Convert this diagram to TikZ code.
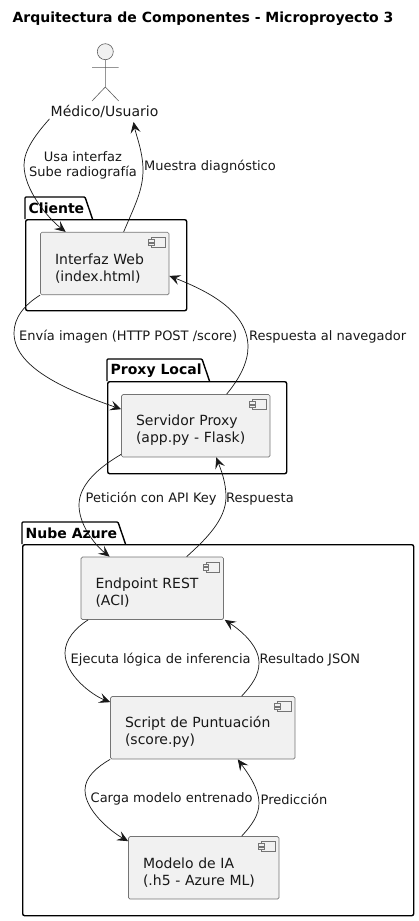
\documentclass[tikz,border=0pt]{standalone}
\usepackage{fontspec}
\setmainfont{DejaVu Sans}
\usetikzlibrary{arrows.meta}
\definecolor{boxfill}{HTML}{F1F1F1}
\definecolor{ink}{HTML}{181818}
\tikzset{
    comp/.style={draw=ink!60,line width=0.7pt,fill=boxfill,rounded corners=1.5pt,align=left,
        inner xsep=14.5pt,inner ysep=0pt,minimum height=62.5pt,text width=#1,text=ink,
        font=\fontsize{14}{17}\selectfont,execute at begin node={\rule{0pt}{20pt}}},
    pkgbody/.style={draw=black,line width=1.4pt,rounded corners=2pt,inner sep=0pt,anchor=north west},
    pkgname/.style={font=\fontsize{14}{17}\selectfont\bfseries,anchor=west,inner sep=0pt,text=black},
    lbl/.style={font=\fontsize{13}{15}\selectfont,anchor=west,inner sep=0pt,text=ink},
    flow/.style={draw=ink,line width=0.7pt,-{Stealth[length=11pt,width=10pt,inset=4.5pt]}},
    compicon/.pic={
        \draw[ink!60,line width=0.6pt,fill=boxfill] (-18,5.5) rectangle (-4.5,15.5);
        \draw[ink!60,line width=0.6pt,fill=boxfill] (-21,7.5) rectangle (-15.5,10);
        \draw[ink!60,line width=0.6pt,fill=boxfill] (-21,11) rectangle (-15.5,13.5);
    }
}
\begin{document}
\begin{tikzpicture}[x=1pt,y=-1pt]
    \useasboundingbox (0,0) rectangle (419,921);
    \node[font=\fontsize{14}{17}\selectfont\bfseries,text=black,inner sep=0pt] (title) at (203,18.5) {Arquitectura de Componentes - Microproyecto 3};

    % paquetes
    \node[pkgbody,minimum width=161pt,minimum height=91pt] (cliente) at (25,219) {};
    \draw[black,line width=1.4pt,rounded corners=1pt] (cliente.north west) -- (25,197) -- (85,197) -- (92.5,219);
    \node[pkgname] (nameCliente) at (28.5,208.5) {Cliente};
    \node[pkgbody,minimum width=179pt,minimum height=92pt] (local) at (107,381) {};
    \draw[black,line width=1.4pt,rounded corners=1pt] (local.north west) -- (107,359) -- (202,359) -- (209.5,381);
    \node[pkgname] (nameLocal) at (110.5,371) {Proxy Local};
    \node[pkgbody,minimum width=391pt,minimum height=371pt] (azure) at (22,544) {};
    \draw[black,line width=1.4pt,rounded corners=1pt] (azure.north west) -- (22,522) -- (118,522) -- (125.5,544);
    \node[pkgname] (nameAzure) at (25.5,533.5) {Nube Azure};

    % actor
    \draw[ink!70,line width=0.6pt,fill=boxfill] (105.3,51.7) circle (8);
    \draw[ink!70,line width=0.6pt] (105.3,59.7) -- (105.3,87) (92,67.3) -- (118.7,67.3)
        (92,101) -- (105.3,87) -- (118.7,101);
    \node[font=\fontsize{14}{17}\selectfont,text=ink,inner sep=1pt] (user) at (104.5,111.5) {Médico/Usuario};

    % componentes
    \node[comp=99.5pt] (web) at (104.75,263.5) {Interfaz Web\\(index.html)};
    \node[comp=119.5pt] (proxy) at (195.75,425.75) {Servidor Proxy\\(app.py - Flask)};
    \node[comp=113.5pt] (rest) at (152.25,588.25) {Endpoint REST\\(ACI)};
    \node[comp=155.5pt] (score) at (202.75,727.75) {Script de Puntuación\\(score.py)};
    \node[comp=121.5pt] (model) at (203.75,867.75) {Modelo de IA\\(.h5 - Azure ML)};
    \foreach \n in {web,proxy,rest,score,model}
        \pic at (\n.north east) {compicon};

    % conexiones
    \draw[flow] (user.south west) .. controls (36,134) and (24,150) .. (24,165)
        .. controls (24,190) and (48,218) .. ([xshift=25.5pt]web.north west);
    \draw[flow] ([xshift=83.5pt]web.north west) .. controls (135,205) and (143,190) .. (143,170)
        .. controls (143,152) and (136,135) .. ([xshift=-26pt,yshift=-3pt]user.south east);
    \draw[flow] (web.south west) .. controls (24,305) and (14,318) .. (14,333)
        .. controls (14,370) and (75,393) .. ([yshift=-15pt]proxy.north west);
    \draw[flow] ([xshift=105.5pt]proxy.north west) .. controls (240,378) and (248,362) .. (248,347)
        .. controls (248,310) and (205,290) .. ([yshift=-44pt]web.north east);
    \draw[flow] ([yshift=3pt]proxy.south west) .. controls (98,468) and (79,485) .. (79,505)
        .. controls (79,525) and (95,545) .. ([xshift=29pt]rest.north west);
    \draw[flow] ([xshift=106pt]rest.north west) .. controls (205,540) and (226,520) .. (226,497)
        .. controls (226,482) and (221,470) .. ([xshift=20.5pt]proxy.south);
    \draw[flow] ([xshift=7.5pt]rest.south west) .. controls (75,628) and (65,640) .. (65,653)
        .. controls (65,675) and (92,695) .. ([yshift=-6pt]score.north west);
    \draw[flow] ([xshift=131.5pt]score.north west) .. controls (252,685) and (259,675) .. (259,663)
        .. controls (259,645) and (240,630) .. ([xshift=72.5pt]rest.south);
    \draw[flow] (score.south west) .. controls (97,767) and (85,777) .. (85,790)
        .. controls (85,810) and (110,831) .. ([yshift=-5pt]model.north west);
    \draw[flow] ([xshift=113.5pt]model.north west) .. controls (252,825) and (259,815) .. (259,803)
        .. controls (259,788) and (247,772) .. ([xshift=35pt]score.south);

    % etiquetas
    \node[lbl,anchor=center,align=center] (lblUsa) at (83,165.5) {Usa interfaz\\Sube radiografía};
    \node[lbl] (lblMuestra) at (144,167) {Muestra diagnóstico};
    \node[lbl] (lblEnvia) at (19,337) {Envía imagen (HTTP POST /score)};
    \node[lbl] (lblNavegador) at (249,337) {Respuesta al navegador};
    \node[lbl] (lblPeticion) at (85.5,499) {Petición con API Key};
    \node[lbl] (lblRespuesta) at (226,499) {Respuesta};
    \node[lbl] (lblEjecuta) at (70.5,660) {Ejecuta lógica de inferencia};
    \node[lbl] (lblJson) at (259.5,660) {Resultado JSON};
    \node[lbl] (lblCarga) at (90.5,799) {Carga modelo entrenado};
    \node[lbl] (lblPrediccion) at (260.5,799) {Predicción};
\end{tikzpicture}
\end{document}
